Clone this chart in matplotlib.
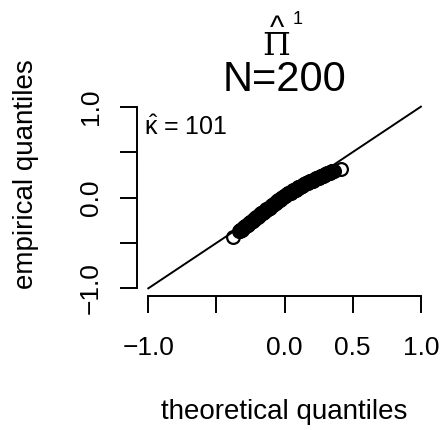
import matplotlib
matplotlib.use("Agg")
import matplotlib.pyplot as plt

plt.rcParams['font.family'] = ['Liberation Sans', 'DejaVu Sans']
plt.rcParams['mathtext.fontset'] = 'custom'
plt.rcParams['mathtext.rm'] = 'Liberation Sans'
plt.rcParams['mathtext.it'] = 'Liberation Sans'
plt.rcParams['mathtext.sf'] = 'Liberation Sans'

# data
theoretical = [-0.377,
    -0.335, -0.330, -0.325, -0.320, -0.315, -0.310, -0.305, -0.300, -0.295, -0.290,
    -0.285, -0.280, -0.275, -0.270, -0.265, -0.260, -0.255, -0.250, -0.245, -0.240,
    -0.235, -0.230, -0.225, -0.220, -0.215, -0.210, -0.205, -0.200, -0.195, -0.190,
    -0.185, -0.180, -0.175, -0.170, -0.165, -0.160, -0.155, -0.150, -0.145, -0.140,
    -0.135, -0.130, -0.125, -0.120, -0.115, -0.110, -0.105, -0.100, -0.095, -0.090,
    -0.085, -0.080, -0.075, -0.070, -0.065, -0.060, -0.055, -0.050, -0.045, -0.040,
    -0.035, -0.030, -0.025, -0.020, -0.015, -0.010, -0.005, 0.000, 0.005, 0.010,
    0.015, 0.020, 0.025, 0.030, 0.035, 0.040, 0.045, 0.050, 0.055, 0.060,
    0.065, 0.070, 0.075, 0.080, 0.085, 0.090, 0.095, 0.100, 0.105, 0.110,
    0.115, 0.120, 0.125, 0.130, 0.135, 0.140, 0.145, 0.150, 0.155, 0.160,
    0.165, 0.170, 0.175, 0.180, 0.185, 0.190, 0.195, 0.200, 0.205, 0.210,
    0.215, 0.220, 0.225, 0.230, 0.235, 0.240, 0.245, 0.250, 0.255, 0.260,
    0.265, 0.270, 0.275, 0.280, 0.285, 0.290, 0.295, 0.300, 0.305, 0.310,
    0.315, 0.320, 0.325, 0.330, 0.335, 0.340, 0.345, 0.350, 0.355, 0.360,
    0.414]
empirical = [-0.440,
    -0.369, -0.366, -0.363, -0.360, -0.357, -0.348, -0.338, -0.329, -0.320, -0.317,
    -0.314, -0.311, -0.308, -0.299, -0.290, -0.280, -0.271, -0.268, -0.265, -0.262,
    -0.259, -0.250, -0.241, -0.232, -0.222, -0.219, -0.216, -0.213, -0.210, -0.202,
    -0.193, -0.185, -0.176, -0.173, -0.171, -0.168, -0.165, -0.157, -0.148, -0.140,
    -0.131, -0.128, -0.126, -0.123, -0.120, -0.111, -0.103, -0.094, -0.085, -0.082,
    -0.079, -0.077, -0.074, -0.065, -0.056, -0.047, -0.039, -0.036, -0.033, -0.030,
    -0.027, -0.019, -0.010, -0.001, 0.008, 0.011, 0.013, 0.016, 0.019, 0.026,
    0.034, 0.041, 0.048, 0.050, 0.051, 0.052, 0.054, 0.061, 0.069, 0.076,
    0.083, 0.085, 0.086, 0.087, 0.089, 0.096, 0.103, 0.111, 0.118, 0.120,
    0.121, 0.122, 0.124, 0.131, 0.138, 0.146, 0.153, 0.154, 0.156, 0.158,
    0.159, 0.165, 0.170, 0.176, 0.181, 0.183, 0.184, 0.186, 0.187, 0.193,
    0.198, 0.203, 0.209, 0.210, 0.212, 0.213, 0.215, 0.220, 0.226, 0.231,
    0.236, 0.238, 0.239, 0.241, 0.242, 0.248, 0.253, 0.259, 0.264, 0.266,
    0.267, 0.268, 0.270, 0.275, 0.281, 0.286, 0.292, 0.293, 0.295, 0.296,
    0.313]
ref_line = [-1.0, 1.0]
x_ticks = [-1.0, -0.5, 0.0, 0.5, 1.0]
x_ticklabels = ["\u22121.0", "", "0.0", "0.5", "1.0"]
y_ticks = [-1.0, -0.5, 0.0, 0.5, 1.0]
y_ticklabels = ["\u22121.0", "", "0.0", "", "1.0"]
kappa_value = 101
n_value = 200

W, H = 445, 430
fig = plt.figure(figsize=(W / 100, H / 100), dpi=100)
ax = fig.add_axes([137.4 / W, 1 - 295.6 / H, (431.8 - 137.4) / W, (295.6 - 99.4) / H])
ax.set_xlim(-1.08, 1.08)
ax.set_ylim(-1.08, 1.08)

ax.plot(ref_line, ref_line, color='black', lw=1.4, zorder=1)
ax.plot(theoretical, empirical, linestyle='none', marker='o', ms=9.2, mfc='none',
        mec='black', mew=1.6, zorder=2)

for s in ['top', 'right']:
    ax.spines[s].set_visible(False)
ax.spines['bottom'].set_bounds(-1, 1)
ax.spines['left'].set_bounds(-1, 1)
for s in ['bottom', 'left']:
    ax.spines[s].set_linewidth(1.4)

ax.set_xticks(x_ticks)
ax.set_xticklabels(x_ticklabels, fontsize=19)
ax.set_yticks(y_ticks)
ax.set_yticklabels(y_ticklabels, fontsize=19, rotation=90, va='center')
ax.tick_params(axis='both', length=12.5, width=1.4, direction='out')
ax.tick_params(axis='x', pad=16.5)
ax.tick_params(axis='y', pad=12.5)

ax.set_xlabel('theoretical quantiles', fontsize=20, va='center')
ax.set_ylabel('empirical quantiles', fontsize=20, va='center')
ax.xaxis.set_label_coords(0.5, -0.593)
ax.yaxis.set_label_coords(-0.380, 0.62)

ax.text(-1.035, 0.69, r'$\hat{\kappa}$' + ' = ' + str(kappa_value), fontsize=18,
        ha='left', va='baseline')

fig.text(284 / W, 1 - 80 / H, 'N=' + str(n_value), fontsize=30, ha='center', va='center')
fig.text(276.5 / W, 1 - 55 / H, r'$\Pi$', fontsize=23, ha='center', va='baseline',
         math_fontfamily='dejavuserif')
fig.text(277.5 / W, 1 - 37 / H, '^', fontsize=22, ha='center', va='baseline')
fig.text(298 / W, 1 - 19 / H, '1', fontsize=13, ha='center', va='center')

fig.savefig('out.png', dpi=100)
